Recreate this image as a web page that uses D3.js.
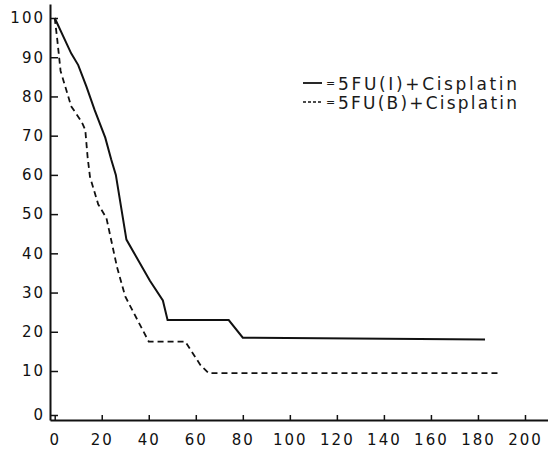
<!DOCTYPE html>
<html>
<head>
<meta charset="utf-8">
<script src="https://cdn.jsdelivr.net/npm/d3@7"></script>
<style>
	body { margin: 0; background: #fff; }
	svg { display: block; }
	.tick text { font-family: 'DejaVu Sans', sans-serif; font-size: 15px; letter-spacing: 2px; fill: #111; }
	.legend text { font-family: 'DejaVu Sans', sans-serif; fill: #1a1a1a; }
</style>
</head>
<body>
<script>
// survival (%) against time
const series = ['5FU(I)+Cisplatin', '5FU(B)+Cisplatin'];

const solidTime = [0, 7, 10, 13.5, 17, 21.5, 24, 26, 30.5, 40.5, 46, 48, 74, 80, 183];
const solidPct  = [100, 91, 88, 82.5, 76.5, 69.5, 64, 60, 43.5, 33, 28, 23, 23, 18.5, 18];

const dashTime = [0, 1, 2.5, 5, 7, 11.5, 13, 14, 15, 18.5, 22, 26.5, 30, 36.5, 40, 55.5, 62, 65.5, 189];
const dashPct  = [100, 95, 86.5, 81.5, 77.5, 73.5, 71.5, 64.5, 59.5, 52.5, 49, 36.5, 29, 21.5, 17.5, 17.5, 11.5, 9.5, 9.5];

const xTicks = [0, 20, 40, 60, 80, 100, 120, 140, 160, 180, 200];
const yTicks = [0, 10, 20, 30, 40, 50, 60, 70, 80, 90, 100];

const width = 548, height = 450;

const svg = d3.select('body')
	.append('svg')
	.attr('width', width)
	.attr('height', height);

const xScale = d3.scaleLinear()
	.domain([-2, 210])
	.range([50, 548.5]);

// the hand drawn axis is not even near zero, so a piecewise scale
const yScale = d3.scaleLinear()
	.domain([-1.15, 0, 10, 100, 103.5])
	.range([420, 415, 371, 18, 4]);

const xAxis = d3.axisBottom(xScale)
	.tickValues(xTicks)
	.tickSizeInner(-5)
	.tickSizeOuter(0)
	.tickPadding(14);

const yAxis = d3.axisLeft(yScale)
	.tickValues(yTicks)
	.tickSizeInner(-8)
	.tickSizeOuter(0)
	.tickPadding(5);

const gx = svg.append('g')
	.attr('transform', `translate(0, ${yScale(-1.15)})`)
	.call(xAxis);

const gy = svg.append('g')
	.attr('transform', `translate(${xScale(-2)}, 0)`)
	.call(yAxis);

[gx, gy].forEach(g => {
	g.select('.domain').attr('stroke', '#111').attr('stroke-width', 2);
	g.selectAll('.tick line').attr('stroke', '#111').attr('stroke-width', 1.5);
});

const line = d3.line()
	.x(d => xScale(d[0]))
	.y(d => yScale(d[1]));

svg.append('path')
	.datum(d3.zip(solidTime, solidPct))
	.attr('fill', 'none')
	.attr('stroke', '#111')
	.attr('stroke-width', 2)
	.attr('d', line);

svg.append('path')
	.datum(d3.zip(dashTime, dashPct))
	.attr('fill', 'none')
	.attr('stroke', '#111')
	.attr('stroke-width', 1.8)
	.attr('stroke-dasharray', '6,4')
	.attr('d', line);

const legend = svg.append('g')
	.attr('class', 'legend')
	.attr('transform', 'translate(303, 83)');

const entries = legend.selectAll('.legend-entry')
	.data(series)
	.enter().append('g')
	.attr('class', 'legend-entry')
	.attr('transform', (d, i) => `translate(0, ${i * 19})`);

entries.append('line')
	.attr('x1', 0)
	.attr('x2', 19)
	.attr('stroke', '#111')
	.attr('stroke-width', (d, i) => i ? 1.3 : 1.8)
	.attr('stroke-dasharray', (d, i) => i ? '3,2' : null);

entries.append('text')
	.attr('x', 23)
	.attr('y', 4)
	.style('font-size', '11px')
	.text('=');

entries.append('text')
	.attr('x', 35)
	.attr('y', 7)
	.attr('textLength', 179)
	.attr('lengthAdjust', 'spacing')
	.style('font-size', '17px')
	.text(d => d);
</script>
</body>
</html>
